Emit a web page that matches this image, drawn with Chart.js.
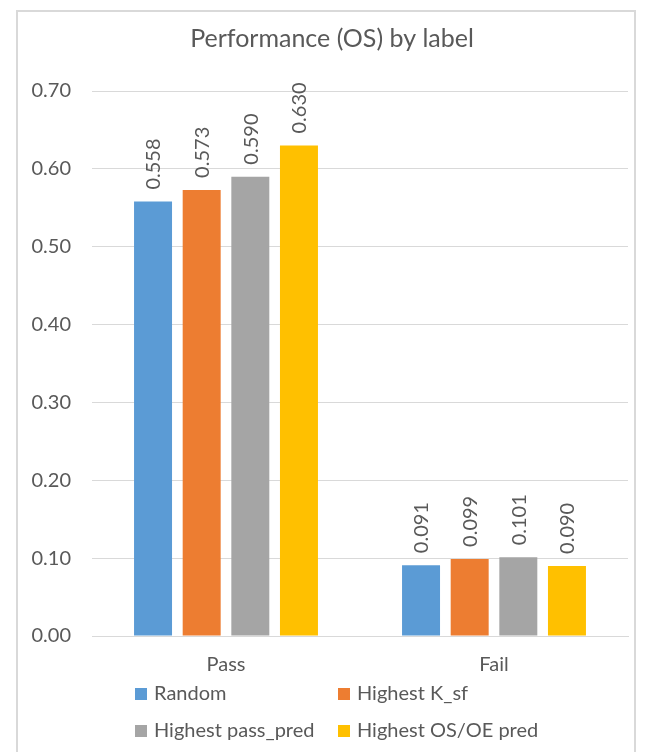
<!DOCTYPE html>
<html>
<head>
<meta charset="utf-8">
<script src="https://cdn.jsdelivr.net/npm/chart.js@4/dist/chart.umd.min.js"></script>
<style>
  html, body { margin: 0; padding: 0; background: #ffffff; }
  body { width: 648px; height: 752px; position: relative; overflow: hidden; }
  #frame {
    position: absolute; left: 16px; top: 10px; width: 620px; height: 800px;
    border: 2px solid #d9d9d9; box-sizing: border-box;
  }
  #wrap { position: absolute; left: 0; top: 0; width: 648px; height: 752px; }
</style>
</head>
<body>
<div id="frame"></div>
<div id="wrap"><canvas id="chart"></canvas></div>
<script>
// Performance (OS) by label, per selection strategy
const chartTitle = 'Performance (OS) by label';
const categories = ['Pass', 'Fail'];
const seriesNames = ['Random', 'Highest K_sf', 'Highest pass_pred', 'Highest OS/OE pred'];
const random = [0.558, 0.091];
const highestKsf = [0.573, 0.099];
const highestPassPred = [0.590, 0.101];
const highestOsOePred = [0.630, 0.090];
const yTicks = [0, 0.1, 0.2, 0.3, 0.4, 0.5, 0.6, 0.7];

const seriesValues = [random, highestKsf, highestPassPred, highestOsOePred];
const seriesColors = ['#5B9BD5', '#ED7D31', '#A5A5A5', '#FFC000'];

const TEXT = '#595959';
const GRID = '#d9d9d9';
const FONT = 'Lato, "Open Sans", sans-serif';
const FONT_SIZE = 20;

// Title centred over the framed panel
const panelTitle = {
  id: 'panelTitle',
  afterDraw(chart) {
    const ctx = chart.ctx;
    ctx.save();
    ctx.fillStyle = TEXT;
    ctx.font = '25px ' + FONT;
    ctx.textAlign = 'center';
    ctx.textBaseline = 'middle';
    ctx.fillText(chartTitle, 332, 39);
    ctx.restore();
  }
};

// Vertical value labels above each bar
const barValueLabels = {
  id: 'barValueLabels',
  afterDatasetsDraw(chart) {
    const ctx = chart.ctx;
    ctx.save();
    ctx.fillStyle = TEXT;
    ctx.font = FONT_SIZE + 'px ' + FONT;
    ctx.textAlign = 'left';
    ctx.textBaseline = 'middle';
    chart.data.datasets.forEach((ds, di) => {
      const meta = chart.getDatasetMeta(di);
      meta.data.forEach((bar, i) => {
        ctx.save();
        ctx.translate(bar.x + 1, bar.y - 12);
        ctx.rotate(-Math.PI / 2);
        ctx.fillText(ds.data[i].toFixed(3), 0, 0);
        ctx.restore();
      });
    });
    ctx.restore();
  }
};

// Two-column legend under the category axis
const gridLegend = {
  id: 'gridLegend',
  afterDraw(chart) {
    const ctx = chart.ctx;
    const colX = [135, 338];
    const rowY = [694, 731];
    ctx.save();
    ctx.font = FONT_SIZE + 'px ' + FONT;
    ctx.textAlign = 'left';
    ctx.textBaseline = 'middle';
    chart.data.datasets.forEach((ds, i) => {
      const x = colX[i % 2];
      const y = rowY[Math.floor(i / 2)];
      ctx.fillStyle = ds.backgroundColor;
      ctx.fillRect(x, y - 6, 12, 12);
      ctx.fillStyle = TEXT;
      ctx.fillText(ds.label, x + 19, y);
    });
    ctx.restore();
  }
};

new Chart(document.getElementById('chart'), {
  type: 'bar',
  data: {
    labels: categories,
    datasets: seriesNames.map((name, i) => ({
      label: name,
      data: seriesValues[i],
      backgroundColor: seriesColors[i],
      borderWidth: 0,
      categoryPercentage: 0.726,
      barPercentage: 0.781
    }))
  },
  options: {
    responsive: true,
    maintainAspectRatio: false,
    animation: false,
    events: [],
    layout: { padding: { left: 12, right: 20, top: 91, bottom: 76 } },
    plugins: {
      legend: { display: false },
      tooltip: { enabled: false },
      title: { display: false }
    },
    scales: {
      x: {
        grid: { display: false, drawTicks: false },
        border: { display: true, color: GRID, width: 1 },
        ticks: { color: TEXT, font: { family: FONT, size: FONT_SIZE }, padding: 17 },
        afterFit(scale) { scale.height = 40; }
      },
      y: {
        min: 0,
        max: 0.7,
        afterBuildTicks(scale) { scale.ticks = yTicks.map(v => ({ value: v })); },
        grid: { color: GRID, lineWidth: 1, drawTicks: false },
        border: { display: false },
        ticks: {
          color: TEXT,
          font: { family: FONT, size: FONT_SIZE },
          padding: 21,
          callback: v => Number(v).toFixed(2)
        },
        afterFit(scale) { scale.width = 80; }
      }
    }
  },
  plugins: [panelTitle, barValueLabels, gridLegend]
});
</script>
</body>
</html>
